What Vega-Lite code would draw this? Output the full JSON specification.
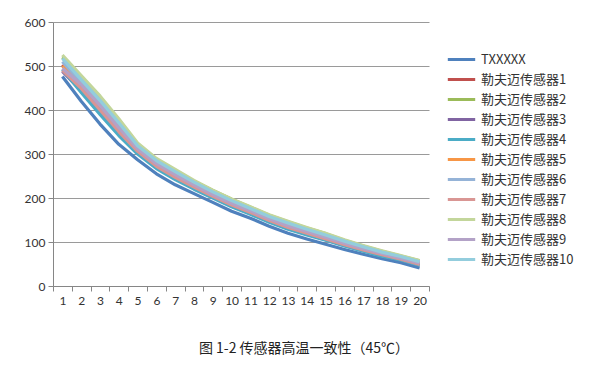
{
  "$schema": "https://vega.github.io/schema/vega-lite/v6.json",
  "autosize": {"type": "none"},
  "width": 376,
  "height": 264,
  "padding": {"left": 53, "top": 22, "right": 171, "bottom": 80},
  "background": "white",
  "title": {
    "text": "图 1-2 传感器高温一致性（45℃）",
    "orient": "bottom",
    "anchor": "middle",
    "dx": 63,
    "offset": 36,
    "font": "Noto Sans CJK SC",
    "fontSize": 14,
    "fontWeight": "normal",
    "color": "#222222"
  },
  "data": {
    "values": [
      {"x": 1, "TXXXXX": 476, "勒夫迈传感器1": 503, "勒夫迈传感器2": 520, "勒夫迈传感器3": 488, "勒夫迈传感器4": 492, "勒夫迈传感器5": 500, "勒夫迈传感器6": 510, "勒夫迈传感器7": 490, "勒夫迈传感器8": 525, "勒夫迈传感器9": 495, "勒夫迈传感器10": 517},
      {"x": 2, "TXXXXX": 420, "勒夫迈传感器1": 452, "勒夫迈传感器2": 475, "勒夫迈传感器3": 444, "勒夫迈传感器4": 440, "勒夫迈传感器5": 465, "勒夫迈传感器6": 463, "勒夫迈传感器7": 449, "勒夫迈传感器8": 478, "勒夫迈传感器9": 458, "勒夫迈传感器10": 469},
      {"x": 3, "TXXXXX": 368, "勒夫迈传感器1": 403, "勒夫迈传感器2": 429, "勒夫迈传感器3": 395, "勒夫迈传感器4": 390, "勒夫迈传感器5": 428, "勒夫迈传感器6": 416, "勒夫迈传感器7": 400, "勒夫迈传感器8": 432, "勒夫迈传感器9": 410, "勒夫迈传感器10": 422},
      {"x": 4, "TXXXXX": 322, "勒夫迈传感器1": 354, "勒夫迈传感器2": 377, "勒夫迈传感器3": 346, "勒夫迈传感器4": 342, "勒夫迈传感器5": 378, "勒夫迈传感器6": 365, "勒夫迈传感器7": 351, "勒夫迈传感器8": 380, "勒夫迈传感器9": 360, "勒夫迈传感器10": 371},
      {"x": 5, "TXXXXX": 287, "勒夫迈传感器1": 308, "勒夫迈传感器2": 323, "勒夫迈传感器3": 303, "勒夫迈传感器4": 300, "勒夫迈传感器5": 310, "勒夫迈传感器6": 315, "勒夫迈传感器7": 306, "勒夫迈传感器8": 325, "勒夫迈传感器9": 312, "勒夫迈传感器10": 319},
      {"x": 6, "TXXXXX": 255, "勒夫迈传感器1": 274, "勒夫迈传感器2": 288, "勒夫迈传感器3": 270, "勒夫迈传感器4": 267, "勒夫迈传感器5": 276, "勒夫迈传感器6": 281, "勒夫迈传感器7": 272, "勒夫迈传感器8": 290, "勒夫迈传感器9": 278, "勒夫迈传感器10": 285},
      {"x": 7, "TXXXXX": 230, "勒夫迈传感器1": 249, "勒夫迈传感器2": 263, "勒夫迈传感器3": 245, "勒夫迈传感器4": 242, "勒夫迈传感器5": 251, "勒夫迈传感器6": 256, "勒夫迈传感器7": 247, "勒夫迈传感器8": 265, "勒夫迈传感器9": 253, "勒夫迈传感器10": 260},
      {"x": 8, "TXXXXX": 210, "勒夫迈传感器1": 227, "勒夫迈传感器2": 238, "勒夫迈传感器3": 223, "勒夫迈传感器4": 220, "勒夫迈传感器5": 228, "勒夫迈传感器6": 232, "勒夫迈传感器7": 225, "勒夫迈传感器8": 240, "勒夫迈传感器9": 230, "勒夫迈传感器10": 236},
      {"x": 9, "TXXXXX": 190, "勒夫迈传感器1": 205, "勒夫迈传感器2": 217, "勒夫迈传感器3": 202, "勒夫迈传感器4": 200, "勒夫迈传感器5": 207, "勒夫迈传感器6": 211, "勒夫迈传感器7": 204, "勒夫迈传感器8": 218, "勒夫迈传感器9": 208, "勒夫迈传感器10": 214},
      {"x": 10, "TXXXXX": 170, "勒夫迈传感器1": 185, "勒夫迈传感器2": 197, "勒夫迈传感器3": 182, "勒夫迈传感器4": 180, "勒夫迈传感器5": 187, "勒夫迈传感器6": 191, "勒夫迈传感器7": 184, "勒夫迈传感器8": 198, "勒夫迈传感器9": 188, "勒夫迈传感器10": 194},
      {"x": 11, "TXXXXX": 154, "勒夫迈传感器1": 168, "勒夫迈传感器2": 179, "勒夫迈传感器3": 165, "勒夫迈传感器4": 163, "勒夫迈传感器5": 170, "勒夫迈传感器6": 173, "勒夫迈传感器7": 167, "勒夫迈传感器8": 180, "勒夫迈传感器9": 171, "勒夫迈传感器10": 176},
      {"x": 12, "TXXXXX": 136, "勒夫迈传感器1": 150, "勒夫迈传感器2": 161, "勒夫迈传感器3": 147, "勒夫迈传感器4": 145, "勒夫迈传感器5": 152, "勒夫迈传感器6": 155, "勒夫迈传感器7": 149, "勒夫迈传感器8": 162, "勒夫迈传感器9": 153, "勒夫迈传感器10": 158},
      {"x": 13, "TXXXXX": 120, "勒夫迈传感器1": 135, "勒夫迈传感器2": 146, "勒夫迈传感器3": 131, "勒夫迈传感器4": 129, "勒夫迈传感器5": 136, "勒夫迈传感器6": 140, "勒夫迈传感器7": 133, "勒夫迈传感器8": 147, "勒夫迈传感器9": 137, "勒夫迈传感器10": 143},
      {"x": 14, "TXXXXX": 107, "勒夫迈传感器1": 121, "勒夫迈传感器2": 132, "勒夫迈传感器3": 118, "勒夫迈传感器4": 116, "勒夫迈传感器5": 123, "勒夫迈传感器6": 126, "勒夫迈传感器7": 120, "勒夫迈传感器8": 133, "勒夫迈传感器9": 124, "勒夫迈传感器10": 129},
      {"x": 15, "TXXXXX": 95, "勒夫迈传感器1": 109, "勒夫迈传感器2": 119, "勒夫迈传感器3": 105, "勒夫迈传感器4": 104, "勒夫迈传感器5": 110, "勒夫迈传感器6": 114, "勒夫迈传感器7": 107, "勒夫迈传感器8": 120, "勒夫迈传感器9": 111, "勒夫迈传感器10": 116},
      {"x": 16, "TXXXXX": 83, "勒夫迈传感器1": 95, "勒夫迈传感器2": 104, "勒夫迈传感器3": 92, "勒夫迈传感器4": 91, "勒夫迈传感器5": 96, "勒夫迈传感器6": 99, "勒夫迈传感器7": 94, "勒夫迈传感器8": 105, "勒夫迈传感器9": 97, "勒夫迈传感器10": 102},
      {"x": 17, "TXXXXX": 72, "勒夫迈传感器1": 83, "勒夫迈传感器2": 91, "勒夫迈传感器3": 80, "勒夫迈传感器4": 79, "勒夫迈传感器5": 84, "勒夫迈传感器6": 87, "勒夫迈传感器7": 82, "勒夫迈传感器8": 92, "勒夫迈传感器9": 85, "勒夫迈传感器10": 89},
      {"x": 18, "TXXXXX": 62, "勒夫迈传感器1": 72, "勒夫迈传感器2": 79, "勒夫迈传感器3": 70, "勒夫迈传感器4": 68, "勒夫迈传感器5": 73, "勒夫迈传感器6": 75, "勒夫迈传感器7": 71, "勒夫迈传感器8": 80, "勒夫迈传感器9": 74, "勒夫迈传感器10": 77},
      {"x": 19, "TXXXXX": 53, "勒夫迈传感器1": 62, "勒夫迈传感器2": 68, "勒夫迈传感器3": 60, "勒夫迈传感器4": 59, "勒夫迈传感器5": 63, "勒夫迈传感器6": 65, "勒夫迈传感器7": 61, "勒夫迈传感器8": 69, "勒夫迈传感器9": 63, "勒夫迈传感器10": 67},
      {"x": 20, "TXXXXX": 41, "勒夫迈传感器1": 50, "勒夫迈传感器2": 57, "勒夫迈传感器3": 48, "勒夫迈传感器4": 47, "勒夫迈传感器5": 51, "勒夫迈传感器6": 54, "勒夫迈传感器7": 49, "勒夫迈传感器8": 58, "勒夫迈传感器9": 52, "勒夫迈传感器10": 55}
    ]
  },
  "transform": [
    {"fold": ["TXXXXX", "勒夫迈传感器1", "勒夫迈传感器2", "勒夫迈传感器3", "勒夫迈传感器4", "勒夫迈传感器5", "勒夫迈传感器6", "勒夫迈传感器7", "勒夫迈传感器8", "勒夫迈传感器9", "勒夫迈传感器10"], "as": ["series", "value"]}
  ],
  "mark": {"type": "line", "strokeWidth": 3.2, "strokeCap": "butt", "strokeJoin": "round"},
  "encoding": {
    "x": {
      "field": "x",
      "type": "ordinal",
      "scale": {"type": "band", "paddingInner": 0, "paddingOuter": 0},
      "axis": {
        "title": null,
        "labelAngle": 0,
        "tickBand": "extent",
        "grid": false,
        "domainColor": "#868686",
        "tickColor": "#868686",
        "tickSize": 5,
        "labelPadding": 4,
        "labelFont": "Lato",
        "labelFontSize": 12,
        "labelColor": "#333333"
      }
    },
    "y": {
      "field": "value",
      "type": "quantitative",
      "scale": {"domain": [0, 600], "nice": false},
      "axis": {
        "title": null,
        "values": [0, 100, 200, 300, 400, 500, 600],
        "grid": true,
        "gridColor": "#9a9a9a",
        "domainColor": "#868686",
        "tickColor": "#868686",
        "tickSize": 5,
        "labelPadding": 3,
        "labelFont": "Lato",
        "labelFontSize": 12,
        "labelColor": "#333333"
      }
    },
    "color": {
      "field": "series",
      "type": "nominal",
      "scale": {
        "domain": ["TXXXXX", "勒夫迈传感器1", "勒夫迈传感器2", "勒夫迈传感器3", "勒夫迈传感器4", "勒夫迈传感器5", "勒夫迈传感器6", "勒夫迈传感器7", "勒夫迈传感器8", "勒夫迈传感器9", "勒夫迈传感器10"],
        "range": ["#4F81BD", "#C0504D", "#9BBB59", "#8064A2", "#4BACC6", "#F79646", "#95B3D7", "#D99694", "#C3D69B", "#B3A2C7", "#93CDDD"]
      },
      "legend": {
        "title": null,
        "orient": "none",
        "legendX": 393,
        "legendY": 30,
        "symbolType": "stroke",
        "symbolSize": 750,
        "symbolStrokeWidth": 3,
        "labelFont": "Noto Sans CJK SC",
        "labelFontSize": 13,
        "labelColor": "#333333",
        "labelOffset": 4,
        "rowPadding": 5,
        "clipHeight": 15
      }
    }
  },
  "config": {
    "view": {"stroke": null}
  }
}
